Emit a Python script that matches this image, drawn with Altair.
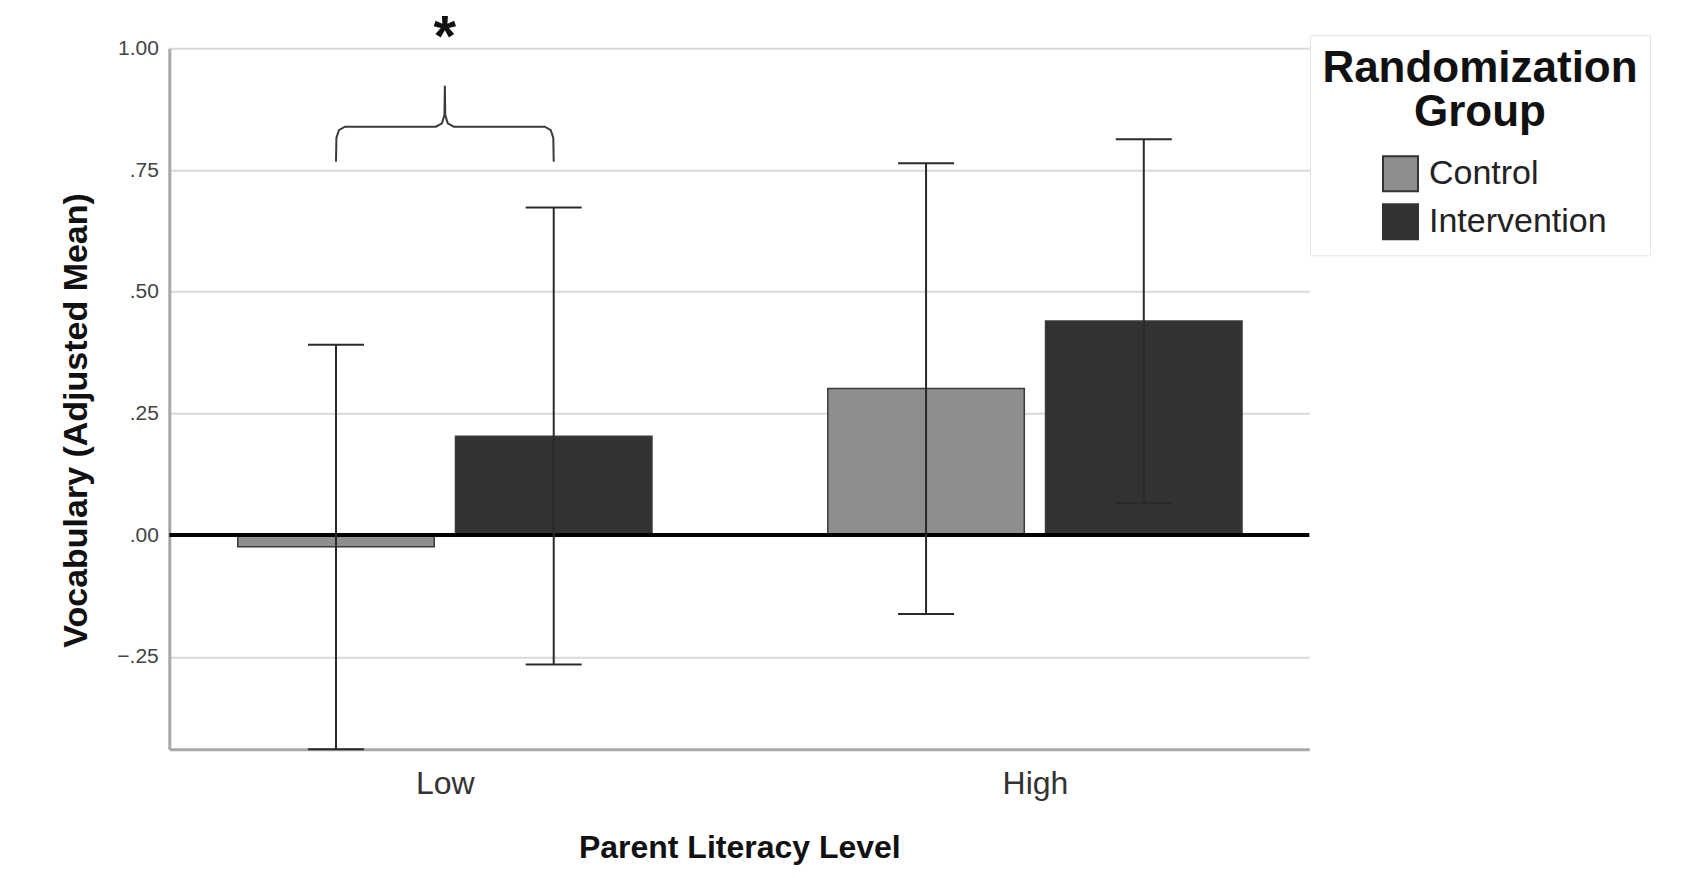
import altair as alt
import pandas as pd

# ---------------- data ----------------
levels = ["Low", "High"]
groups = ["Control", "Intervention"]
mean_control = [-0.024, 0.301]
mean_intervention = [0.203, 0.440]
lower_control = [-0.440, -0.162]
lower_intervention = [-0.266, 0.066]
upper_control = [0.391, 0.764]
upper_intervention = [0.673, 0.813]
y_tick_values = [-0.25, 0.0, 0.25, 0.50, 0.75, 1.00]

# significance annotation over the "Low" pair (brace + asterisk)
brace_x = [-0.1845, -0.1838, -0.1795, -0.1693, -0.0151, -0.0049, -0.0007, 0.0,
           0.0007, 0.0049, 0.0151, 0.1693, 0.1795, 0.1838, 0.1845]
brace_y = [0.767, 0.816, 0.832, 0.839, 0.839, 0.846, 0.863, 0.923,
           0.863, 0.846, 0.839, 0.839, 0.832, 0.816, 0.767]
star_level = [0]
star_y = [1.02]

# ---------------- layout constants ----------------
GROUP_OFFSET = 0.1845   # distance of each bar centre from the category centre
HALF_WIDTH = 0.1665     # half bar width (in category units)
FONT = "Liberation Sans"

rows = []
for i, lev in enumerate(levels):
    for g, means, lows, ups, sign in [
        ("Control", mean_control, lower_control, upper_control, -1),
        ("Intervention", mean_intervention, lower_intervention, upper_intervention, 1),
    ]:
        c = i + sign * GROUP_OFFSET
        rows.append(dict(level=lev, group=g, mean=means[i], lower=lows[i], upper=ups[i],
                         center=c, left=c - HALF_WIDTH, right=c + HALF_WIDTH, zero=0.0))
df = pd.DataFrame(rows)

brace_df = pd.DataFrame({"bx": brace_x, "by": brace_y, "i": list(range(len(brace_x)))})
star_df = pd.DataFrame({"sx": star_level, "sy": star_y})
zero_df = pd.DataFrame({"z": [0.0]})

xs = alt.Scale(domain=[-0.467, 1.465], nice=False, zero=False)
ys = alt.Scale(domain=[-0.44, 1.0], nice=False, zero=False)

x_axis = alt.Axis(
    values=[0, 1], labelExpr="datum.value == 0 ? 'Low' : 'High'",
    grid=False, ticks=False, tickSize=0, labelFlush=False,
    domainColor="#a8a8a8", domainWidth=3,
    labelFont=FONT, labelFontSize=32, labelColor="#333333",
    labelBaseline="alphabetic", labelPadding=44,
    titleFont=FONT, titleFontSize=32, titleFontWeight="bold", titleColor="#111111",
    titleBaseline="alphabetic", titleY=108,
)
y_axis = alt.Axis(
    values=y_tick_values,
    labelExpr="replace(format(datum.value, '.2f'), '0.', '.')",
    grid=True, gridColor="#d9d9d9", gridWidth=2,
    ticks=False, tickSize=0,
    domainColor="#a8a8a8", domainWidth=3,
    labelFont=FONT, labelFontSize=21, labelColor="#444444", labelPadding=11,
    titleFont=FONT, titleFontSize=34, titleFontWeight="bold", titleColor="#111111",
    titleX=-76, titleY=371.6,
)

legend = alt.Legend(
    title=["Randomization", "Group"], orient="none", legendX=1140.7, legendY=-13,
    titleFont=FONT, titleFontSize=44, titleFontWeight="bold", titleColor="#111111",
    titleLineHeight=44, titleAnchor="middle", titleAlign="center", titlePadding=20,
    titleLimit=600,
    labelFont=FONT, labelFontSize=34, labelColor="#222222", labelLimit=600, labelOffset=10,
    symbolType="square", symbolSize=1225, symbolStrokeColor="#333333", symbolStrokeWidth=2,
    symbolOffset=28, rowPadding=5, padding=12,
    strokeColor="#e4e4e4", fillColor="white",
)

color = alt.Color("group:N", scale=alt.Scale(domain=groups, range=["#8e8e8e", "#323232"]),
                  legend=legend)

base = alt.Chart(df)

bars = base.mark_bar(stroke="#3a3a3a", strokeWidth=1.5).encode(
    x=alt.X("left:Q", scale=xs, axis=x_axis, title="Parent Literacy Level"),
    x2="right:Q",
    y=alt.Y("mean:Q", scale=ys, axis=y_axis, title="Vocabulary (Adjusted Mean)"),
    y2="zero:Q",
    color=color,
)

zero_line = alt.Chart(zero_df).mark_rule(color="black", strokeWidth=4).encode(
    y=alt.Y("z:Q", scale=ys)
)

err = base.mark_rule(color="#2a2a2a", strokeWidth=2).encode(
    x=alt.X("center:Q", scale=xs), y=alt.Y("lower:Q", scale=ys), y2="upper:Q"
)
cap_lo = base.mark_tick(orient="horizontal", size=56, thickness=2, color="#2a2a2a", opacity=1).encode(
    x=alt.X("center:Q", scale=xs), y=alt.Y("lower:Q", scale=ys)
)
cap_hi = base.mark_tick(orient="horizontal", size=56, thickness=2, color="#2a2a2a", opacity=1).encode(
    x=alt.X("center:Q", scale=xs), y=alt.Y("upper:Q", scale=ys)
)

brace = alt.Chart(brace_df).mark_line(color="#3a3a3a", strokeWidth=2).encode(
    x=alt.X("bx:Q", scale=xs), y=alt.Y("by:Q", scale=ys), order="i:Q"
)
star = alt.Chart(star_df).mark_text(
    text="*", font=FONT, fontSize=58, fontWeight="bold", baseline="middle", color="#111111"
).encode(x=alt.X("sx:Q", scale=xs), y=alt.Y("sy:Q", scale=ys))

chart = alt.layer(bars, zero_line, err, cap_lo, cap_hi, brace, star).properties(
    width=1140, height=701,
    autosize=alt.AutoSizeParams(type="none"),
    padding={"left": 161.3, "top": 40.3, "right": 370, "bottom": 118},
).configure_view(strokeWidth=0)

chart.save("out.html", embed_options={"renderer": "svg", "actions": False})
